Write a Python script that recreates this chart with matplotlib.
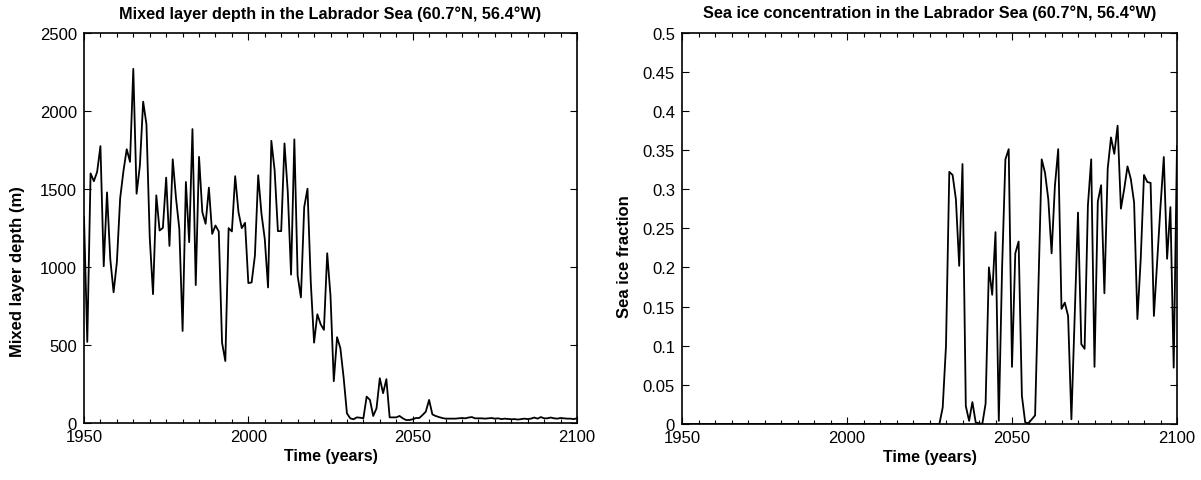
import numpy as np
import matplotlib
matplotlib.use('Agg')
import matplotlib.pyplot as plt
from matplotlib.ticker import MultipleLocator, FuncFormatter

plt.rcParams['font.family'] = ['Liberation Sans', 'DejaVu Sans']

# Data (annual values)
years = np.arange(1950, 2101)

mld = [
  1320, 520, 1600, 1550, 1610, 1775, 1005, 1478, 1050, 838,      # 1950-1959
  1030, 1440, 1615, 1755, 1674, 2270, 1470, 1650, 2060, 1915,    # 1960-1969
  1190, 826, 1459, 1234, 1251, 1573, 1135, 1690, 1440, 1245,     # 1970-1979
  590, 1545, 1159, 1884, 884, 1706, 1352, 1277, 1509, 1212,      # 1980-1989
  1266, 1228, 515, 397, 1249, 1228, 1582, 1352, 1249, 1283,      # 1990-1999
  897, 901, 1073, 1588, 1341, 1180, 869, 1809, 1620, 1230,       # 2000-2009
  1230, 1792, 1481, 951, 1818, 944, 805, 1384, 1502, 901,        # 2010-2019
  515, 697, 633, 597, 1088, 815, 268, 550, 480, 290,             # 2020-2029
  62, 30, 24, 36, 34, 30, 169, 148, 45, 94,                      # 2030-2039
  287, 191, 281, 36, 36, 36, 45, 30, 19, 19,                     # 2040-2049
  24, 32, 32, 51, 73, 148, 55, 45, 38, 32,                       # 2050-2059
  28, 28, 28, 28, 30, 32, 30, 35, 38, 30,                        # 2060-2069
  30, 30, 28, 30, 32, 28, 30, 25, 28, 26,                        # 2070-2079
  24, 25, 22, 25, 28, 25, 28, 35, 28, 38,                        # 2080-2089
  30, 30, 35, 30, 28, 32, 30, 28, 28, 25,                        # 2090-2099
  30,                                                            # 2100
]

ice_early = [0.0] * 79  # 1950-2028: no sea ice
ice_late = [
  0.021, 0.10, 0.322, 0.318, 0.287, 0.202, 0.332, 0.023, 0.004, 0.028,  # 2029-2038
  0.002, 0.001, 0.0, 0.026, 0.200, 0.165, 0.245, 0.004, 0.20, 0.338,    # 2039-2048
  0.351, 0.073, 0.218, 0.233, 0.036, 0.002, 0.001, 0.006, 0.011, 0.175, # 2049-2058
  0.338, 0.321, 0.287, 0.218, 0.304, 0.351, 0.147, 0.155, 0.138, 0.006, # 2059-2068
  0.138, 0.270, 0.102, 0.096, 0.279, 0.338, 0.073, 0.284, 0.305, 0.167, # 2069-2078
  0.326, 0.366, 0.345, 0.381, 0.275, 0.300, 0.329, 0.313, 0.283, 0.134, # 2079-2088
  0.210, 0.318, 0.309, 0.308, 0.138, 0.208, 0.278, 0.341, 0.211, 0.277, # 2089-2098
  0.072, 0.355,                                                         # 2099-2100
]
ice = ice_early + ice_late

titles = ['Mixed layer depth in the Labrador Sea (60.7\u00b0N, 56.4\u00b0W)',
          'Sea ice concentration in the Labrador Sea (60.7\u00b0N, 56.4\u00b0W)']

TICK_FS = 12
LABEL_FS = 11.5


def style_axes(ax):
  ax.set_xlim(1950, 2100)
  ax.xaxis.set_major_locator(MultipleLocator(50))
  ax.xaxis.set_minor_locator(MultipleLocator(5))
  ax.tick_params(which='both', direction='in', top=True, right=True,
                 labelsize=TICK_FS, width=0.8)
  ax.tick_params(axis='x', pad=4.5)
  ax.tick_params(axis='y', pad=5)
  ax.tick_params(which='major', length=5)
  ax.tick_params(which='minor', length=3)
  for sp in ax.spines.values():
    sp.set_linewidth(1.2)
  ax.set_xlabel('Time (years)', fontsize=LABEL_FS, fontweight='bold', labelpad=3)


fig = plt.figure(figsize=(12.01, 4.81), dpi=100)

# Left panel: mixed layer depth
ax1 = fig.add_axes([84/1201, 57/481, 493/1201, 390/481])
ax1.plot(years, mld, color='black', lw=1.3)
style_axes(ax1)
ax1.set_ylim(0, 2500)
ax1.yaxis.set_major_locator(MultipleLocator(500))
ax1.set_ylabel('Mixed layer depth (m)', fontsize=12, fontweight='bold')
ax1.yaxis.set_label_coords(-0.12, 0.39)
ax1.set_title(titles[0], fontsize=11.7, fontweight='bold', pad=11)

# Right panel: sea ice fraction
ax2 = fig.add_axes([682/1201, 56/481, 495/1201, 391.5/481])
ax2.plot(years, ice, color='black', lw=1.3)
style_axes(ax2)
ax2.set_ylim(0, 0.5)
ax2.yaxis.set_major_locator(MultipleLocator(0.05))
ax2.yaxis.set_major_formatter(FuncFormatter(lambda v, p: '%g' % round(v, 2)))
ax2.set_ylabel('Sea ice fraction', fontsize=12, fontweight='bold')
ax2.yaxis.set_label_coords(-0.101, 0.43)
ax2.set_title(titles[1], fontsize=11.7, fontweight='bold', pad=11)

fig.savefig('out.png', dpi=100)
